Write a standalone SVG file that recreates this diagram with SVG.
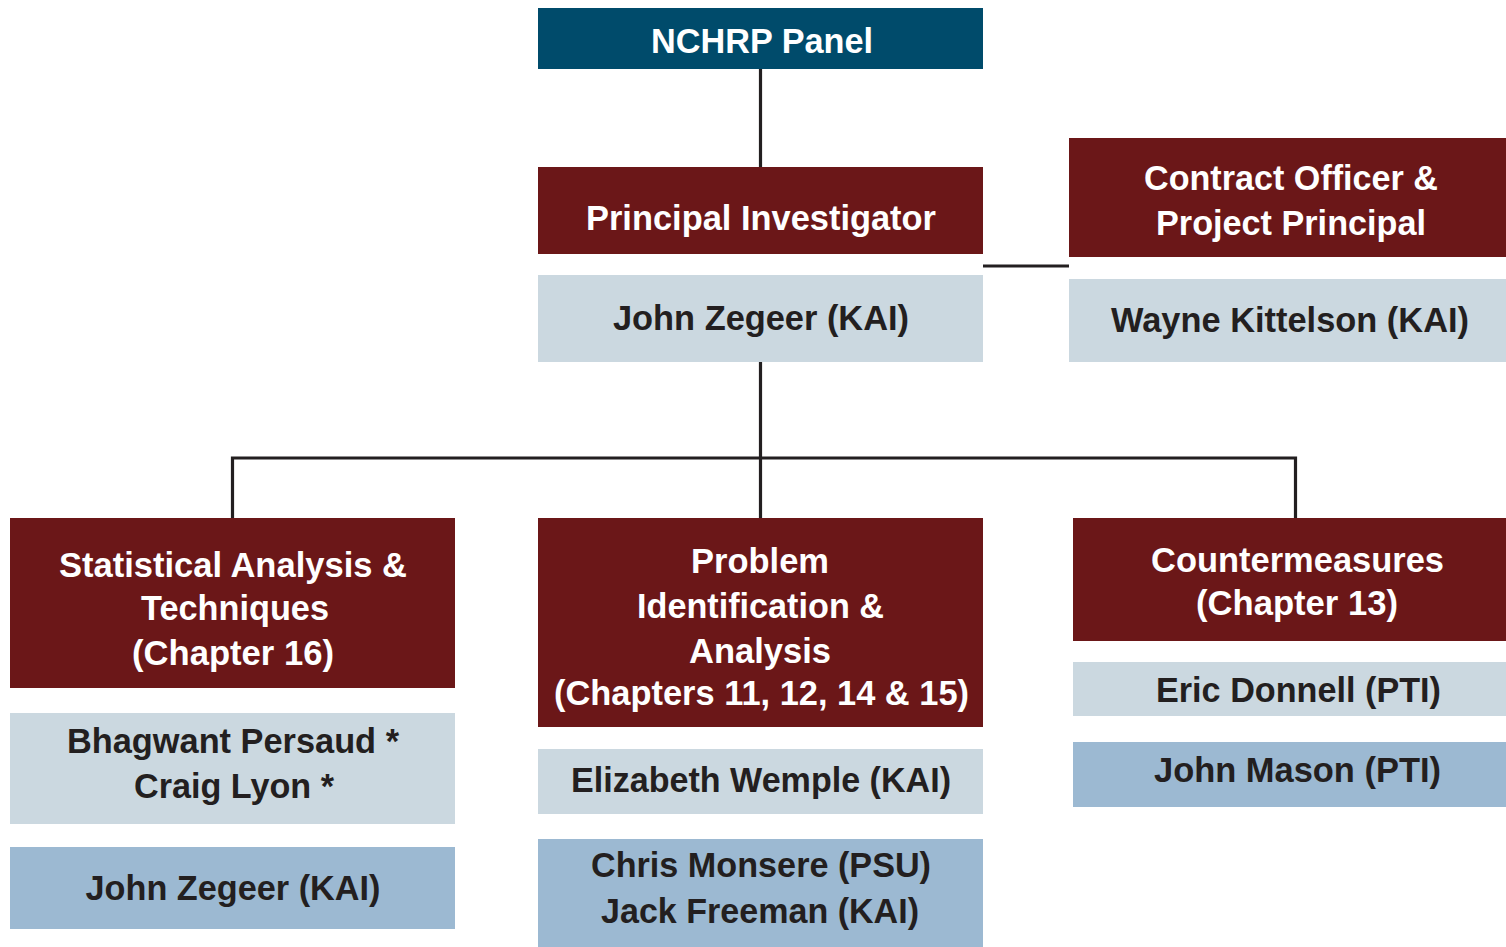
<svg xmlns="http://www.w3.org/2000/svg" width="1506" height="947" viewBox="0 0 1506 947">
<style>
.hd{fill:#6b1718}
.bl{fill:#004b6b}
.lt{fill:#cbd8e0}
.md{fill:#9cb9d2}
text{font-family:"Liberation Sans",Arial,sans-serif;font-weight:bold;font-size:35px;text-anchor:middle}
.w{fill:#ffffff}
.k{fill:#231f20}
.c{stroke:#231f20;stroke-width:3.2;fill:none}
</style>
<rect width="1506" height="947" fill="#ffffff"/>
<g id="connectors">
<line class="c" x1="760.5" y1="69" x2="760.5" y2="167"/>
<line class="c" x1="983" y1="266" x2="1069" y2="266"/>
<line class="c" x1="760.5" y1="362" x2="760.5" y2="518"/>
<polyline class="c" points="232.5,518 232.5,458 1295.5,458 1295.5,518"/>
</g>
<g id="nchrp">
<rect class="bl" x="538" y="8" width="445" height="61"/>
<text class="w" x="762" y="53" textLength="222" lengthAdjust="spacingAndGlyphs">NCHRP Panel</text>
</g>
<g id="pi">
<rect class="hd" x="538" y="167" width="445" height="87"/>
<text class="w" x="761" y="230" textLength="350" lengthAdjust="spacingAndGlyphs">Principal Investigator</text>
</g>
<g id="pi-name">
<rect class="lt" x="538" y="275" width="445" height="87"/>
<text class="k" x="761" y="330" textLength="296" lengthAdjust="spacingAndGlyphs">John Zegeer (KAI)</text>
</g>
<g id="contract">
<rect class="hd" x="1069" y="138" width="437" height="119"/>
<text class="w" x="1291" y="190" textLength="294" lengthAdjust="spacingAndGlyphs">Contract Officer &amp;</text>
<text class="w" x="1291" y="235" textLength="270" lengthAdjust="spacingAndGlyphs">Project Principal</text>
</g>
<g id="contract-name">
<rect class="lt" x="1069" y="279" width="437" height="83"/>
<text class="k" x="1290" y="332" textLength="358" lengthAdjust="spacingAndGlyphs">Wayne Kittelson (KAI)</text>
</g>
<g id="stat">
<rect class="hd" x="10" y="518" width="445" height="170"/>
<text class="w" x="233" y="577" textLength="348" lengthAdjust="spacingAndGlyphs">Statistical Analysis &amp;</text>
<text class="w" x="235" y="620" textLength="188" lengthAdjust="spacingAndGlyphs">Techniques</text>
<text class="w" x="233" y="665" textLength="202" lengthAdjust="spacingAndGlyphs">(Chapter 16)</text>
</g>
<g id="stat-names">
<rect class="lt" x="10" y="713" width="445" height="111"/>
<text class="k" x="233" y="753" textLength="332" lengthAdjust="spacingAndGlyphs">Bhagwant Persaud *</text>
<text class="k" x="234" y="798" textLength="200" lengthAdjust="spacingAndGlyphs">Craig Lyon *</text>
</g>
<g id="stat-kai">
<rect class="md" x="10" y="847" width="445" height="82"/>
<text class="k" x="233" y="900" textLength="295" lengthAdjust="spacingAndGlyphs">John Zegeer (KAI)</text>
</g>
<g id="problem">
<rect class="hd" x="538" y="518" width="445" height="209"/>
<text class="w" x="760" y="573" textLength="138" lengthAdjust="spacingAndGlyphs">Problem</text>
<text class="w" x="760.5" y="618" textLength="247" lengthAdjust="spacingAndGlyphs">Identification &amp;</text>
<text class="w" x="760" y="663" textLength="142" lengthAdjust="spacingAndGlyphs">Analysis</text>
<text class="w" x="761.5" y="705" textLength="415" lengthAdjust="spacingAndGlyphs">(Chapters 11, 12, 14 &amp; 15)</text>
</g>
<g id="problem-kai">
<rect class="lt" x="538" y="749" width="445" height="65"/>
<text class="k" x="761" y="792" textLength="380" lengthAdjust="spacingAndGlyphs">Elizabeth Wemple (KAI)</text>
</g>
<g id="problem-others">
<rect class="md" x="538" y="839" width="445" height="108"/>
<text class="k" x="761" y="877" textLength="340" lengthAdjust="spacingAndGlyphs">Chris Monsere (PSU)</text>
<text class="k" x="760" y="923" textLength="318" lengthAdjust="spacingAndGlyphs">Jack Freeman (KAI)</text>
</g>
<g id="counter">
<rect class="hd" x="1073" y="518" width="433" height="123"/>
<text class="w" x="1297.5" y="572" textLength="293" lengthAdjust="spacingAndGlyphs">Countermeasures</text>
<text class="w" x="1297" y="615" textLength="202" lengthAdjust="spacingAndGlyphs">(Chapter 13)</text>
</g>
<g id="counter-pti1">
<rect class="lt" x="1073" y="662" width="433" height="54"/>
<text class="k" x="1298.5" y="702" textLength="285" lengthAdjust="spacingAndGlyphs">Eric Donnell (PTI)</text>
</g>
<g id="counter-pti2">
<rect class="md" x="1073" y="742" width="433" height="65"/>
<text class="k" x="1297.5" y="782" textLength="287" lengthAdjust="spacingAndGlyphs">John Mason (PTI)</text>
</g>
</svg>
